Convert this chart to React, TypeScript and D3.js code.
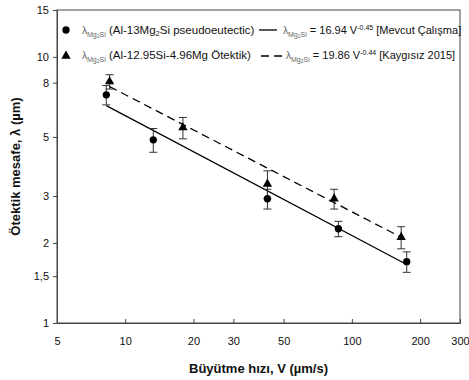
import { useEffect, useRef } from "react";
import * as d3 from "d3";

// Al-13Mg2Si pseudoeutectic (circles)
const circleV = [8.25, 13.3, 42.4, 87.2, 174.6];
const circleL = [7.2, 4.88, 2.93, 2.26, 1.7];
const circleErr = [0.6, 0.5, 0.25, 0.15, 0.15];

// Al-12.95Si-4.96Mg ötektik (triangles)
const triV = [8.53, 17.97, 42.4, 83.5, 165];
const triL = [8.07, 5.42, 3.33, 2.93, 2.1];
const triErr = [0.5, 0.5, 0.4, 0.25, 0.2];

// fitted power laws
const fitSolid = { a: 16.94, b: -0.45 };
const fitDashed = { a: 19.86, b: -0.44 };

const xTicks = [5, 10, 20, 30, 50, 100, 200, 300];
const yTicks = [1, 1.5, 2, 3, 5, 8, 10, 15];

const W = 469;
const H = 380;
const M = { left: 57, right: 9, top: 10, bottom: 57 };
const FONT = "'Liberation Sans', Arial, sans-serif";

export default function App() {
  const svgRef = useRef<SVGSVGElement>(null);

  useEffect(() => {
    if (!svgRef.current) return;
    const svg = d3.select(svgRef.current);
    svg.selectAll("*").remove();

    const x = d3.scaleLog().domain([5, 300]).range([M.left, W - M.right]);
    const y = d3.scaleLog().domain([1, 15]).range([H - M.bottom, M.top]);

    const g = svg.append("g").attr("font-family", FONT);

    // frame
    g.append("rect")
      .attr("x", M.left)
      .attr("y", M.top)
      .attr("width", W - M.left - M.right)
      .attr("height", H - M.top - M.bottom)
      .attr("fill", "none")
      .attr("stroke", "#444")
      .attr("stroke-width", 1);

    // x axis (ticks pointing inward)
    const xAxis = g
      .append("g")
      .attr("transform", `translate(0,${H - M.bottom})`)
      .call(
        d3
          .axisBottom(x)
          .tickValues(xTicks)
          .tickSize(-4)
          .tickPadding(14)
          .tickFormat((d) => String(d)),
      );
    xAxis.select(".domain").attr("stroke", "#444");
    xAxis.selectAll("line").attr("stroke", "#444");
    xAxis.selectAll("text").attr("font-size", 11).attr("fill", "#111").attr("font-family", FONT);

    // y axis
    const yAxis = g
      .append("g")
      .attr("transform", `translate(${M.left},0)`)
      .call(
        d3
          .axisLeft(y)
          .tickValues(yTicks)
          .tickSize(4)
          .tickPadding(4)
          .tickFormat((d) => String(d).replace(".", ",")),
      );
    yAxis.select(".domain").attr("stroke", "#444");
    yAxis.selectAll("line").attr("stroke", "#444");
    yAxis.selectAll("text").attr("font-size", 11).attr("fill", "#111").attr("font-family", FONT);

    // axis titles
    g.append("text")
      .attr("x", (M.left + W - M.right) / 2)
      .attr("y", 373)
      .attr("text-anchor", "middle")
      .attr("font-size", 13)
      .attr("font-weight", "bold")
      .attr("fill", "#111")
      .text("Büyütme hızı, V (µm/s)");

    g.append("text")
      .attr("transform", `translate(20,${(M.top + H - M.bottom) / 2}) rotate(-90)`)
      .attr("text-anchor", "middle")
      .attr("font-size", 13)
      .attr("font-weight", "bold")
      .attr("fill", "#111")
      .text("Ötektik mesafe, λ (µm)");

    // fit lines
    const fitLine = (f: { a: number; b: number }, v0: number, v1: number) =>
      d3
        .line<number>()
        .x((v) => x(v))
        .y((v) => y(f.a * Math.pow(v, f.b)))([v0, v1]);

    g.append("path")
      .attr("d", fitLine(fitSolid, circleV[0], circleV[circleV.length - 1]))
      .attr("stroke", "#000")
      .attr("stroke-width", 1.3)
      .attr("fill", "none");

    g.append("path")
      .attr("d", fitLine(fitDashed, triV[0], triV[triV.length - 1]))
      .attr("stroke", "#000")
      .attr("stroke-width", 1.3)
      .attr("stroke-dasharray", "8,5")
      .attr("fill", "none");

    // error bars
    const errBars = (vs: number[], ls: number[], es: number[]) => {
      vs.forEach((v, i) => {
        const cx = x(v);
        const y0 = y(ls[i] + es[i]);
        const y1 = y(ls[i] - es[i]);
        const eg = g.append("g").attr("stroke", "#333").attr("stroke-width", 1);
        eg.append("line").attr("x1", cx).attr("x2", cx).attr("y1", y0).attr("y2", y1);
        eg.append("line").attr("x1", cx - 4).attr("x2", cx + 4).attr("y1", y0).attr("y2", y0);
        eg.append("line").attr("x1", cx - 4).attr("x2", cx + 4).attr("y1", y1).attr("y2", y1);
      });
    };
    errBars(circleV, circleL, circleErr);
    errBars(triV, triL, triErr);

    // markers
    const circleSym = d3.symbol().type(d3.symbolCircle).size(42)();
    const triSym = d3.symbol().type(d3.symbolTriangle).size(38)();

    g.selectAll(".pc")
      .data(circleV)
      .join("path")
      .attr("d", circleSym)
      .attr("transform", (v, i) => `translate(${x(v)},${y(circleL[i])})`)
      .attr("fill", "#000");

    g.selectAll(".pt")
      .data(triV)
      .join("path")
      .attr("d", triSym)
      .attr("transform", (v, i) => `translate(${x(v)},${y(triL[i])})`)
      .attr("fill", "#000");

    // legend
    const lg = g.append("g").attr("font-size", 11.5).attr("fill", "#111");

    lg.append("path").attr("d", circleSym).attr("transform", "translate(66,30)").attr("fill", "#000");
    lg.append("path").attr("d", triSym).attr("transform", "translate(66,56)").attr("fill", "#000");

    const lambdaSub = (t: d3.Selection<SVGTextElement, unknown, null, undefined>) => {
      t.append("tspan").attr("fill", "#666").attr("font-size", 10).text("λ");
      t.append("tspan").attr("fill", "#666").attr("font-size", 7).attr("dy", 3).text("Mg");
      t.append("tspan").attr("fill", "#666").attr("font-size", 5).attr("dy", 1).text("2");
      t.append("tspan").attr("fill", "#666").attr("font-size", 7).attr("dy", -1).text("Si");
    };

    const t1 = lg.append("text").attr("x", 82).attr("y", 34);
    lambdaSub(t1);
    t1.append("tspan").attr("dy", -3).text(" (Al-13Mg");
    t1.append("tspan").attr("font-size", 7.5).attr("dy", 2).text("2");
    t1.append("tspan").attr("dy", -2).text("Si pseudoeutectic)");

    const t2 = lg.append("text").attr("x", 82).attr("y", 59);
    lambdaSub(t2);
    t2.append("tspan").attr("dy", -3).text(" (Al-12.95Si-4.96Mg Ötektik)");

    lg.append("line")
      .attr("x1", 259).attr("x2", 277).attr("y1", 30).attr("y2", 30)
      .attr("stroke", "#000").attr("stroke-width", 1.3);
    lg.append("line")
      .attr("x1", 261).attr("x2", 282).attr("y1", 56).attr("y2", 56)
      .attr("stroke", "#000").attr("stroke-width", 1.3).attr("stroke-dasharray", "8,5");

    const eq = (t: d3.Selection<SVGTextElement, unknown, null, undefined>, f: { a: number; b: number }, ref: string) => {
      lambdaSub(t);
      t.append("tspan").attr("dy", -3).text(` = ${f.a} V`);
      t.append("tspan").attr("font-size", 7).attr("dy", -4).text(String(f.b));
      t.append("tspan").attr("dy", 4).text(` ${ref}`);
    };
    eq(lg.append("text").attr("x", 283).attr("y", 34).attr("font-size", 11), fitSolid, "[Mevcut Çalışma]");
    eq(lg.append("text").attr("x", 286).attr("y", 59).attr("font-size", 11), fitDashed, "[Kaygısız 2015]");
  }, []);

  return (
    <svg
      ref={svgRef}
      width={W}
      height={H}
      style={{ position: "absolute", left: 0, top: 0, background: "#fff" }}
    />
  );
}
